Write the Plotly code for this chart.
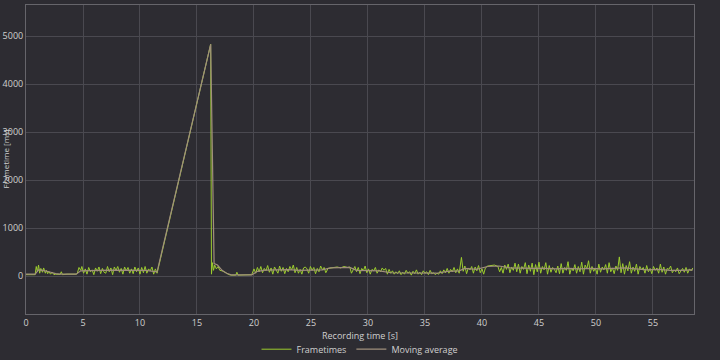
import plotly.graph_objects as go

# Frametimes (recording time in s, frametime in ms)
time_s = [
    0, 0.8, 0.9, 1.0, 1.1, 1.2, 1.3, 1.45, 1.55, 1.7,
    1.8, 1.9, 2.0, 2.15, 2.3, 2.45, 2.6, 3.0, 3.1, 3.2,
    3.6, 4.4, 4.5, 4.65, 4.8, 4.9, 5.05, 5.2, 5.35, 5.5,
    5.65, 5.8, 5.95, 6.1, 6.25, 6.4, 6.55, 6.7, 6.85, 7.0,
    7.15, 7.3, 7.45, 7.6, 7.75, 7.9, 8.05, 8.2, 8.35, 8.5,
    8.65, 8.8, 8.95, 9.1, 9.25, 9.4, 9.55, 9.7, 9.85, 10.0,
    10.15, 10.3, 10.45, 10.6, 10.75, 10.9, 11.05, 11.2, 11.35, 11.5,
    16.2, 16.27, 16.35, 16.45, 16.55, 16.7, 16.85, 17.0, 17.2, 17.4,
    17.6, 17.8, 18.0, 18.4, 18.5, 18.6, 19.0, 19.6, 19.8, 20.0,
    20.15, 20.3, 20.45, 20.6, 20.75, 20.9, 21.05, 21.2, 21.35, 21.5,
    21.65, 21.8, 21.95, 22.1, 22.25, 22.4, 22.55, 22.7, 22.85, 23.0,
    23.15, 23.3, 23.45, 23.6, 23.75, 23.9, 24.05, 24.2, 24.35, 24.5,
    24.65, 24.8, 24.95, 25.1, 25.25, 25.4, 25.55, 25.7, 25.85, 26.0,
    26.15, 26.3, 26.5, 26.7, 27.0, 27.3, 27.6, 27.9, 28.2, 28.4,
    28.55, 28.7, 28.85, 29.0, 29.15, 29.3, 29.45, 29.6, 29.75, 29.9,
    30.05, 30.2, 30.35, 30.5, 30.65, 30.8, 30.95, 31.1, 31.25, 31.4,
    31.55, 31.7, 31.85, 32.0, 32.15, 32.3, 32.45, 32.6, 32.75, 32.9,
    33.05, 33.2, 33.35, 33.5, 33.65, 33.8, 33.95, 34.1, 34.25, 34.4,
    34.55, 34.7, 34.85, 35.0, 35.15, 35.3, 35.45, 35.6, 35.75, 35.9,
    36.05, 36.2, 36.35, 36.5, 36.65, 36.8, 36.95, 37.1, 37.25, 37.4,
    37.55, 37.7, 37.85, 38.0, 38.2, 38.35, 38.5, 38.65, 38.8, 38.95,
    39.1, 39.25, 39.4, 39.55, 39.7, 39.85, 40.0, 40.15, 40.3, 40.5,
    40.8, 41.1, 41.4, 41.55, 41.7, 41.85, 42.0, 42.15, 42.3, 42.45,
    42.6, 42.75, 42.9, 43.05, 43.2, 43.35, 43.5, 43.65, 43.8, 43.95,
    44.1, 44.25, 44.4, 44.55, 44.7, 44.85, 45.0, 45.15, 45.3, 45.45,
    45.6, 45.75, 45.9, 46.05, 46.2, 46.35, 46.5, 46.65, 46.8, 46.95,
    47.1, 47.25, 47.4, 47.55, 47.7, 47.85, 48.0, 48.15, 48.3, 48.45,
    48.6, 48.75, 48.9, 49.05, 49.2, 49.35, 49.5, 49.65, 49.8, 49.95,
    50.1, 50.25, 50.4, 50.55, 50.7, 50.85, 51.0, 51.15, 51.3, 51.45,
    51.6, 51.75, 51.9, 52.05, 52.2, 52.35, 52.5, 52.65, 52.8, 52.95,
    53.1, 53.25, 53.4, 53.55, 53.7, 53.85, 54.0, 54.15, 54.3, 54.45,
    54.6, 54.75, 54.9, 55.05, 55.2, 55.35, 55.5, 55.65, 55.8, 55.95,
    56.1, 56.25, 56.4, 56.55, 56.7, 56.85, 57.0, 57.15, 57.3, 57.45,
    57.6, 57.75, 57.9, 58.05, 58.2, 58.35, 58.5,
]
frametime_ms = [
    30, 30, 200, 90, 230, 60, 160, 80, 170, 60,
    120, 50, 100, 40, 80, 30, 40, 35, 90, 30,
    40, 40, 60, 180, 120, 200, 60, 150, 40, 180,
    90, 130, 30, 170, 100, 190, 50, 160, 80, 60,
    200, 90, 170, 30, 190, 120, 200, 80, 160, 40,
    190, 110, 180, 60, 150, 50, 190, 90, 170, 40,
    180, 70, 200, 60, 150, 110, 190, 40, 150, 60,
    4830, 40, 280, 120, 230, 150, 200, 120, 110, 90,
    60, 30, 20, 20, 80, 20, 20, 20, 30, 150,
    60, 180, 90, 200, 70, 160, 110, 220, 80, 170,
    40, 190, 120, 60, 210, 100, 180, 50, 160, 90,
    200, 130, 230, 70, 180, 60, 140, 40, 170, 190,
    150, 60, 200, 120, 180, 50, 160, 90, 210, 130,
    180, 70, 160, 170, 180, 190, 170, 200, 180, 190,
    60, 120, 200, 90, 180, 50, 160, 110, 210, 70,
    150, 40, 140, 110, 180, 60, 130, 90, 170, 120,
    160, 40, 140, 60, 110, 40, 90, 50, 110, 30,
    80, 40, 120, 60, 90, 20, 100, 50, 130, 40,
    80, 30, 110, 60, 90, 30, 120, 50, 70, 30,
    60, 40, 110, 50, 130, 70, 160, 60, 140, 90,
    180, 70, 150, 60, 390, 100, 210, 50, 170, 130,
    200, 60, 190, 110, 220, 70, 150, 40, 170, 210,
    220, 230, 200, 90, 180, 60, 230, 140, 250, 70,
    190, 120, 270, 90, 250, 60, 200, 140, 280, 50,
    230, 100, 270, 30, 240, 90, 290, 60, 200, 130,
    280, 40, 220, 80, 180, 140, 70, 210, 50, 260,
    60, 180, 120, 300, 40, 170, 110, 240, 60, 200,
    90, 290, 40, 230, 150, 320, 60, 200, 100, 170,
    40, 250, 80, 190, 130, 240, 60, 280, 90, 170,
    50, 210, 120, 400, 70, 260, 40, 220, 110, 300,
    60, 190, 100, 250, 40, 200, 130, 180, 60, 220,
    90, 160, 50, 200, 120, 170, 60, 250, 80, 190,
    40, 160, 140, 210, 70, 130, 90, 170, 50, 120,
    160, 80, 180, 60, 150, 110, 170,
]

# Moving average
ma_time_s = [
    0, 0.8, 1.1, 1.5, 2.0, 2.6, 3.0, 4.4, 4.8, 5.5,
    6.5, 7.5, 8.5, 9.5, 10.5, 11.5, 16.2, 16.5, 16.8, 17.2,
    17.6, 18.0, 19.8, 20.3, 21.0, 22.0, 23.0, 24.0, 25.0, 26.0,
    26.7, 27.5, 28.4, 29.0, 30.0, 31.0, 32.0, 33.0, 34.0, 35.0,
    36.0, 37.0, 38.0, 38.5, 39.5, 40.5, 41.5, 42.5, 43.5, 44.5,
    45.5, 46.5, 47.5, 48.5, 49.5, 50.5, 51.5, 52.5, 53.5, 54.5,
    55.5, 56.5, 57.5, 58.5,
]
ma_ms = [
    40, 40, 130, 120, 90, 50, 40, 40, 110, 120,
    120, 125, 120, 115, 120, 90, 4830, 260, 230, 120,
    60, 25, 25, 100, 125, 130, 135, 120, 125, 130,
    170, 180, 180, 120, 110, 110, 70, 70, 70, 65,
    60, 100, 110, 160, 140, 200, 210, 170, 160, 160,
    160, 150, 160, 150, 160, 150, 160, 170, 150, 130,
    140, 120, 120, 130,
]

x_ticks = [0, 5, 10, 15, 20, 25, 30, 35, 40, 45, 50, 55]
y_ticks = [0, 1000, 2000, 3000, 4000, 5000]

BG = "#2d2c32"
GRID = "#4a4950"
FRAME = "#66656b"
TXT = "#d0d0d0"
FONT = "Open Sans"

fig = go.Figure()
fig.add_trace(go.Scatter(
    x=time_s, y=frametime_ms, mode="lines", name="Frametimes",
    line=dict(color="#9ccc2e", width=1),
))
fig.add_trace(go.Scatter(
    x=ma_time_s, y=ma_ms, mode="lines", name="Moving average",
    line=dict(color="#a08f7c", width=1.2),
))

fig.update_layout(
    width=720, height=360,
    paper_bgcolor=BG, plot_bgcolor=BG,
    margin=dict(l=26, r=26, t=5, b=46, autoexpand=False),
    font=dict(family=FONT, size=9, color=TXT),
    showlegend=True,
    legend=dict(orientation="h", x=0.5, xanchor="center",
                yref="container", y=0.03, yanchor="middle",
                font=dict(size=9, color=TXT), bgcolor="rgba(0,0,0,0)",
                tracegroupgap=0),
    annotations=[
        dict(text="Frametime [ms]", xref="paper", yref="paper",
             x=0, y=0.5, xanchor="center", yanchor="middle",
             xshift=-21, textangle=-90, showarrow=False,
             font=dict(size=8, color=TXT)),
        dict(text="Recording time [s]", xref="paper", yref="paper",
             x=0.5, y=0, xanchor="center", yanchor="middle",
             yshift=-21, showarrow=False,
             font=dict(size=9, color=TXT)),
    ],
)
fig.update_xaxes(
    range=[0, 58.6], tickvals=x_ticks, ticktext=[str(v) for v in x_ticks],
    showgrid=True, gridcolor=GRID, gridwidth=1, zeroline=False,
    showline=True, linecolor=FRAME, linewidth=1, mirror=True,
    ticks="", tickfont=dict(size=9, color=TXT), automargin=False,
)
fig.update_yaxes(
    range=[-790, 5650], tickvals=y_ticks, ticktext=[str(v) for v in y_ticks],
    showgrid=True, gridcolor=GRID, gridwidth=1, zeroline=False,
    showline=True, linecolor=FRAME, linewidth=1, mirror=True,
    ticks="", tickfont=dict(size=9, color=TXT), automargin=False,
)

fig.write_html("out.html")
